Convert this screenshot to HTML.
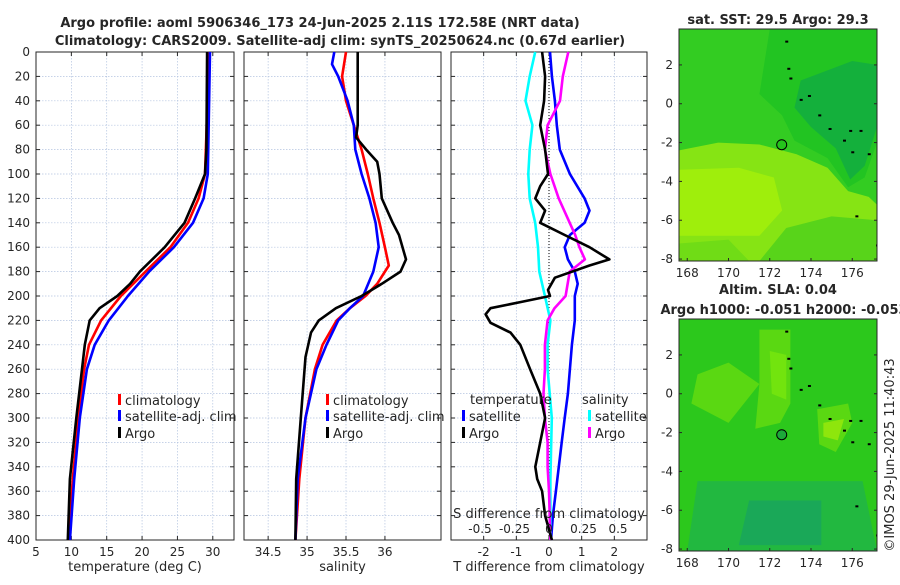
<!DOCTYPE html>
<html><head><meta charset="utf-8"><style>
body{margin:0;background:#fff}
svg text{font-family:"DejaVu Sans","Liberation Sans",sans-serif;fill:#262626}
</style></head><body>
<svg id="c" width="900" height="580" viewBox="0 0 900 580" xmlns="http://www.w3.org/2000/svg">
<text x="320" y="27" font-size="13" font-weight="bold" text-anchor="middle">Argo profile: aoml 5906346_173 24-Jun-2025 2.11S 172.58E (NRT data)</text>
<text x="340" y="45" font-size="13" font-weight="bold" text-anchor="middle">Climatology: CARS2009. Satellite-adj clim: synTS_20250624.nc (0.67d earlier)</text>
</svg>
<script>
// ---------- data ----------
const tDepthClim = [0,100,120,140,160,180,200,220,240,260,300,350,400];
const tClim      = [29.5,28.9,28.0,26.5,24.0,20.5,17.0,14.2,12.5,11.8,11.0,10.2,9.6];
const tSat       = [29.6,29.3,28.7,27.2,24.5,21.0,18.0,15.3,13.3,12.2,11.2,10.4,9.8];
const tDepthArgo = [0,80,100,120,140,160,180,190,200,210,220,240,260,300,350,400];
const tArgo      = [29.2,29.1,28.9,27.5,26.0,23.2,19.7,18.3,16.5,14.0,12.6,11.9,11.5,10.7,9.8,9.5];

const sDepthArgo = [0,60,70,80,90,100,120,140,150,170,180,190,200,210,220,230,250,300,350,400];
const sArgo      = [35.65,35.65,35.63,35.76,35.9,35.93,35.96,36.1,36.18,36.27,36.2,35.96,35.7,35.37,35.15,35.05,34.98,34.92,34.86,34.85];
const sDepthClim = [0,20,40,60,80,100,120,140,160,175,190,200,210,220,240,260,300,350,400];
const sClim      = [35.5,35.45,35.5,35.6,35.7,35.78,35.85,35.93,36.0,36.05,35.9,35.75,35.55,35.38,35.2,35.1,34.98,34.9,34.85];
const sDepthSat  = [0,10,20,40,60,80,100,120,140,160,180,200,210,220,240,260,300,350,400];
const sSat       = [35.35,35.32,35.4,35.52,35.6,35.62,35.7,35.8,35.88,35.92,35.85,35.72,35.55,35.4,35.25,35.12,34.98,34.88,34.85];

const dDepthArgoT = [0,20,40,60,80,100,110,120,130,140,150,160,170,175,185,195,200,205,210,215,222,230,240,260,280,300,320,340,350,360,380,400];
const dArgoT      = [-0.21,-0.12,-0.15,-0.27,-0.12,-0.03,-0.27,-0.42,-0.12,-0.27,0.48,1.24,1.85,1.24,0.18,-0.03,0.03,-0.88,-1.79,-1.94,-1.79,-1.18,-0.88,-0.58,-0.27,-0.12,-0.27,-0.42,-0.36,-0.21,-0.12,0.09];
const dDepthSatT = [0,20,40,60,80,100,120,130,140,150,160,170,180,190,200,210,220,240,260,280,300,320,340,360,380,400];
const dSatT      = [0.03,0.09,0.18,0.24,0.33,0.64,1.09,1.24,1.09,0.64,0.48,0.58,0.79,0.88,0.79,0.79,0.79,0.70,0.64,0.58,0.48,0.39,0.30,0.21,0.12,0.06];
const dDepthSatS = [0,20,40,60,80,100,120,140,160,180,200,220,240,260,300,350,400];
const dSatS      = [-0.10,-0.14,-0.17,-0.12,-0.14,-0.15,-0.14,-0.10,-0.08,-0.07,-0.03,0.01,-0.01,-0.01,0.02,0.01,0.01];
const dDepthArgoS = [0,20,40,60,80,100,120,140,150,160,170,180,200,210,220,240,260,280,300,320,340,360,400];
const dArgoS      = [0.14,0.10,0.08,-0.01,-0.03,0.01,0.07,0.15,0.19,0.22,0.26,0.15,0.12,0.04,-0.01,-0.03,-0.03,-0.04,-0.03,-0.01,-0.01,0,0.01];

const depthTicks = [0,20,40,60,80,100,120,140,160,180,200,220,240,260,280,300,320,340,360,380,400];
const tTicks = [5,10,15,20,25,30];
const sTicks = [34.5,35,35.5,36];
const dTTicks = [-2,-1,0,1,2];
const dSTicks = [-0.5,-0.25,0,0.25,0.5];
const lonTicks = [168,170,172,174,176];
const latTicks = [2,0,-2,-4,-6,-8];

// ---------- drawing ----------
const svg = document.getElementById('c');
const NS = 'http://www.w3.org/2000/svg';
function mk(tag, attrs, parent){const e=document.createElementNS(NS,tag);for(const k in attrs)e.setAttribute(k,attrs[k]);(parent||svg).appendChild(e);return e;}
const Y0=52, Y1=540;
const yD = d => Y0 + (d/400)*(Y1-Y0);

function panel(name, x0, x1, vmin, vmax, ticks, label){
  const g = mk('g',{});
  
  
  const xs = v => x0 + (v-vmin)/(vmax-vmin)*(x1-x0);
  depthTicks.forEach(d=>{mk('line',{x1:x0,x2:x1,y1:yD(d),y2:yD(d),stroke:'#b4c4e0','stroke-width':0.7,'stroke-dasharray':'1.5,1.5'},g);});
  ticks.forEach(v=>{mk('line',{x1:xs(v),x2:xs(v),y1:Y0,y2:Y1,stroke:'#b4c4e0','stroke-width':0.7,'stroke-dasharray':'1.5,1.5'},g);
    const t=mk('text',{x:xs(v),y:Y1+16,'font-size':12,'text-anchor':'middle'},g);t.textContent=v;
    mk('line',{x1:xs(v),x2:xs(v),y1:Y1,y2:Y1-4,stroke:'#262626'},g);mk('line',{x1:xs(v),x2:xs(v),y1:Y0,y2:Y0+4,stroke:'#262626'},g);});
  depthTicks.forEach(d=>{mk('line',{x1:x0,x2:x0+4,y1:yD(d),y2:yD(d),stroke:'#262626'},g);mk('line',{x1:x1,x2:x1-4,y1:yD(d),y2:yD(d),stroke:'#262626'},g);});
  mk('rect',{x:x0,y:Y0,width:x1-x0,height:Y1-Y0,fill:'none',stroke:'#262626','stroke-width':1},g);
  const lb=mk('text',{x:(x0+x1)/2,y:571,'font-size':13,'text-anchor':'middle'},g);lb.textContent=label;
  
  
  return {g, xs};
}
function line(p, depths, vals, color, name, w){
  const pts = depths.map((d,i)=>p.xs(vals[i]).toFixed(1)+','+yD(d).toFixed(1)).join(' ');
  const e = mk('polyline',{points:pts,fill:'none',stroke:color,'stroke-width':w||2.6,'stroke-linejoin':'round'},p.g);
  
  
}
function legend(g, x, y, color, label, name){
  mk('rect',{x:x,y:y-11,width:3,height:11,fill:color},g);
  const t=mk('text',{x:x+7,y:y,'font-size':13},g);t.textContent=label;
  
  
}

depthTicks.forEach(d=>{const t=mk('text',{x:30,y:yD(d)+4,'font-size':12,'text-anchor':'end'});t.textContent=d;});

const p1 = panel('temperature-panel',36,234,5,33,tTicks,'temperature (deg C)');
line(p1,tDepthClim,tClim,'#ff0000','temp-climatology-line');
line(p1,tDepthClim,tSat,'#0000ff','temp-satellite-line');
line(p1,tDepthArgo,tArgo,'#000000','temp-argo-line');
legend(p1.g,118,405,'#ff0000','climatology','legend-climatology');
legend(p1.g,118,421,'#0000ff','satellite-adj. clim','legend-satellite');
legend(p1.g,118,438,'#000000','Argo','legend-argo');

const p2 = panel('salinity-panel',244,441,34.19,36.72,sTicks,'salinity');
line(p2,sDepthClim,sClim,'#ff0000','sal-climatology-line');
line(p2,sDepthSat,sSat,'#0000ff','sal-satellite-line');
line(p2,sDepthArgo,sArgo,'#000000','sal-argo-line');
legend(p2.g,326,405,'#ff0000','climatology','legend2-climatology');
legend(p2.g,326,421,'#0000ff','satellite-adj. clim','legend2-satellite');
legend(p2.g,326,438,'#000000','Argo','legend2-argo');

const p3 = panel('difference-panel',451,647,-3,3,dTTicks,'T difference from climatology');
mk('line',{x1:p3.xs(0),x2:p3.xs(0),y1:Y0,y2:Y1,stroke:'#000','stroke-width':1,'stroke-dasharray':'1,2'},p3.g);
const p3s = {g:p3.g, xs: v => p3.xs(0) + v*138};
line(p3,dDepthSatT,dSatT,'#0000ff','dT-satellite-line');
line(p3s,dDepthSatS,dSatS,'#00ffff','dS-satellite-line');
line(p3s,dDepthArgoS,dArgoS,'#ff00ff','dS-argo-line');
line(p3,dDepthArgoT,dArgoT,'#000000','dT-argo-line');
[['temperature',470,404],['salinity',582,404]].forEach(a=>{const t=mk('text',{x:a[1],y:a[2],'font-size':13},p3.g);t.textContent=a[0];});
legend(p3.g,462,421,'#0000ff','satellite','legend3-t-satellite');
legend(p3.g,462,438,'#000000','Argo','legend3-t-argo');
legend(p3.g,588,421,'#00ffff','satellite','legend3-s-satellite');
legend(p3.g,588,438,'#ff00ff','Argo','legend3-s-argo');
{const t=mk('text',{x:549,y:518,'font-size':13,'text-anchor':'middle'},p3.g);t.textContent='S difference from climatology';}
dSTicks.forEach(v=>{const t=mk('text',{x:p3s.xs(v),y:533,'font-size':12,'text-anchor':'middle'},p3.g);t.textContent=v;});

// ---------- maps ----------
let clipN=0;
function map(name, top, title1, title2, regions, base, circleFill){
  const x0=679,x1=877,bot=top+232;
  const g=mk('g',{});
  
  
  const cp=mk('clipPath',{id:'mc'+(++clipN)},g);
  mk('rect',{x:x0,y:top,width:x1-x0,height:bot-top},cp);
  const inner=mk('g',{'clip-path':'url(#mc'+clipN+')'},g);
  const lx = lo => x0 + (lo-167.6)/(177.2-167.6)*(x1-x0);
  const ly = la => top + (3.85-la)/(3.85+8.1)*(bot-top);
  mk('rect',{x:x0,y:top,width:x1-x0,height:bot-top,fill:base},inner);
  regions.forEach(r=>{mk('polygon',{points:r[1].map(p=>lx(p[0])+','+ly(p[1])).join(' '),fill:r[0]},inner);});
  [[172.8,3.2],[172.9,1.8],[173.0,1.3],[173.5,0.2],[173.9,0.4],[174.4,-0.6],[174.9,-1.3],[175.9,-1.4],[176.4,-1.4],[175.6,-1.9],[176.0,-2.5],[176.8,-2.6],[176.2,-5.8],[177.2,-7.3]].forEach(p=>{
    mk('rect',{x:lx(p[0])-1,y:ly(p[1])-1,width:3,height:2,fill:'#000'},inner);});
  const c=mk('circle',{cx:lx(172.58),cy:ly(-2.11),r:5,fill:circleFill,stroke:'#000','stroke-width':1},g);
  
  
  mk('rect',{x:x0,y:top,width:x1-x0,height:bot-top,fill:'none',stroke:'#262626'},g);
  lonTicks.forEach(lo=>{const t=mk('text',{x:lx(lo),y:bot+16,'font-size':12,'text-anchor':'middle'},g);t.textContent=lo;
    mk('line',{x1:lx(lo),x2:lx(lo),y1:bot,y2:bot-3,stroke:'#262626'},g);});
  latTicks.forEach(la=>{const t=mk('text',{x:673,y:ly(la)+4,'font-size':12,'text-anchor':'end'},g);t.textContent=la;
    mk('line',{x1:x0,x2:x0+3,y1:ly(la),y2:ly(la),stroke:'#262626'},g);mk('line',{x1:x1,x2:x1-3,y1:ly(la),y2:ly(la),stroke:'#262626'},g);});
  const tt=mk('text',{x:778,y:top-(title2?25:5),'font-size':13,'font-weight':'bold','text-anchor':'middle'},g);tt.textContent=title1;
  if(title2){const t2=mk('text',{x:784,y:top-5,'font-size':13,'font-weight':'bold','text-anchor':'middle'},g);t2.textContent=title2;}
}
map('sst-map',29,'sat. SST: 29.5 Argo: 29.3',null,[
  ['#22c422',[[172,3.85],[177.2,3.85],[177.2,-2.0],[176.6,-3.8],[175.8,-4.3],[174.8,-2.8],[173.2,-1.9],[172.6,-0.6],[171.5,0.5]]],
  ['#14b03c',[[173.5,1.2],[176,2.2],[177.2,2.0],[177.2,-1.2],[176.6,-3.2],[175.9,-3.9],[175.2,-2.3],[174,-1.2],[173.2,-0.2]]],
  ['#86e414',[[167.6,-2.4],[169.5,-2.0],[171.5,-2.1],[173.3,-2.6],[174.8,-3.3],[175.8,-4.5],[176.8,-4.8],[177.2,-5.2],[177.2,-8.1],[167.6,-8.1]]],
  ['#9fee0c',[[167.6,-3.4],[170.5,-3.3],[172.2,-3.8],[172.6,-5.5],[171.5,-6.8],[167.6,-6.8]]],
  ['#58d41a',[[172.8,-6.4],[175,-5.8],[177.2,-6.0],[177.2,-8.1],[171.5,-8.1]]],
  ['#70dc16',[[167.6,-7.2],[170,-7.0],[171,-8.1],[167.6,-8.1]]]
],'#33cc22','#25c41c');
map('sla-map',319,'Altim. SLA: 0.04','Argo h1000: -0.051 h2000: -0.053',[
  ['#5ad812',[[171.5,3.3],[173,3.3],[173,-0.5],[172.5,-1.5],[171.3,-1.8],[171.5,0.5],[170,1.6],[168.5,1],[168.2,-0.5],[170,-1.5],[171.5,0.5]]],
  ['#72e40e',[[172,2.2],[172.8,2],[172.8,-0.3],[172.1,0]]],
  ['#5ad812',[[174.3,-0.8],[175.8,-0.5],[176,-1.5],[175.2,-3],[174.4,-2.6]]],
  ['#8ee60c',[[174.6,-1.5],[175.6,-1.3],[175.3,-2.4],[174.6,-2.2]]],
  ['#22b840',[[168.5,-4.5],[176.5,-4.5],[177.2,-8.1],[168,-8.1]]],
  ['#1aa858',[[171,-5.5],[174.5,-5.5],[174.5,-7.8],[170.5,-7.8]]]
],'#2cc81c','#1da83a');
{const t=mk('text',{x:0,y:0,'font-size':13,'text-anchor':'middle',transform:'translate(894,455) rotate(-90)'});t.textContent='©IMOS 29-Jun-2025 11:40:43';

}
</script>
</body></html>
